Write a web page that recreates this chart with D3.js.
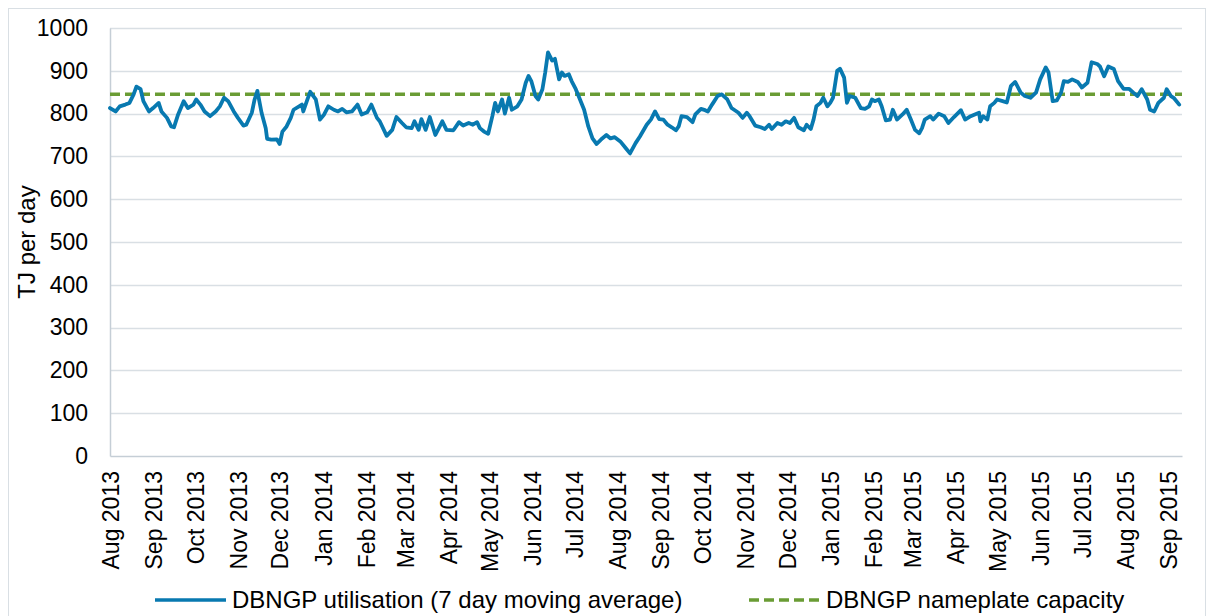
<!DOCTYPE html>
<html>
<head>
<meta charset="utf-8">
<script src="https://cdn.jsdelivr.net/npm/d3@7"></script>
<style>
  html, body { margin: 0; padding: 0; background: #fff; }
  svg { display: block; font-family: "Liberation Sans", Arial, sans-serif; }
</style>
</head>
<body>
<svg id="chart" width="1214" height="616"></svg>
<script>
// ---- Data ----
const dates = [
"2013-08-01","2013-08-05","2013-08-08","2013-08-12","2013-08-15","2013-08-18","2013-08-20","2013-08-23","2013-08-25","2013-08-29",
"2013-09-01","2013-09-05","2013-09-07","2013-09-11","2013-09-14","2013-09-16","2013-09-19","2013-09-23","2013-09-26","2013-09-30",
"2013-10-02","2013-10-05","2013-10-08","2013-10-12","2013-10-16","2013-10-19","2013-10-22","2013-10-25","2013-10-29",
"2013-11-01","2013-11-05","2013-11-07","2013-11-11","2013-11-13","2013-11-15","2013-11-18","2013-11-21","2013-11-22","2013-11-25","2013-11-29",
"2013-12-01","2013-12-03","2013-12-06","2013-12-09","2013-12-11","2013-12-15","2013-12-17","2013-12-18","2013-12-21","2013-12-23","2013-12-27","2013-12-30",
"2014-01-02","2014-01-05","2014-01-09","2014-01-12","2014-01-15","2014-01-18","2014-01-22","2014-01-26","2014-01-29",
"2014-02-02","2014-02-05","2014-02-09","2014-02-11","2014-02-16","2014-02-20","2014-02-23","2014-02-27",
"2014-03-02","2014-03-06","2014-03-08","2014-03-11","2014-03-13","2014-03-16","2014-03-19","2014-03-23","2014-03-28","2014-03-31",
"2014-04-05","2014-04-09","2014-04-12","2014-04-16","2014-04-19","2014-04-22","2014-04-24","2014-04-27","2014-04-30",
"2014-05-03","2014-05-05","2014-05-07","2014-05-10","2014-05-12","2014-05-15","2014-05-17","2014-05-21","2014-05-24","2014-05-27","2014-05-29","2014-05-31",
"2014-06-03","2014-06-05","2014-06-08","2014-06-10","2014-06-12","2014-06-15","2014-06-17","2014-06-20","2014-06-22","2014-06-24","2014-06-27","2014-06-29",
"2014-07-02","2014-07-04","2014-07-08","2014-07-11","2014-07-14","2014-07-17","2014-07-21","2014-07-24","2014-07-27","2014-07-30",
"2014-08-03","2014-08-07","2014-08-10","2014-08-14","2014-08-17","2014-08-22","2014-08-25","2014-08-28","2014-08-31",
"2014-09-03","2014-09-06","2014-09-09","2014-09-12","2014-09-14","2014-09-16","2014-09-20","2014-09-24","2014-09-26","2014-09-30",
"2014-10-03","2014-10-05","2014-10-08","2014-10-12","2014-10-15","2014-10-19","2014-10-22","2014-10-27","2014-10-30",
"2014-11-02","2014-11-04","2014-11-08","2014-11-12","2014-11-15","2014-11-18","2014-11-20","2014-11-24","2014-11-27","2014-11-30",
"2014-12-03","2014-12-06","2014-12-09","2014-12-13","2014-12-15","2014-12-18","2014-12-20","2014-12-22","2014-12-25","2014-12-27","2014-12-30",
"2015-01-01","2015-01-03","2015-01-06","2015-01-08","2015-01-11","2015-01-13","2015-01-15","2015-01-19","2015-01-23","2015-01-26","2015-01-29","2015-01-31",
"2015-02-02","2015-02-05","2015-02-07","2015-02-10","2015-02-13","2015-02-15","2015-02-18","2015-02-22","2015-02-25","2015-02-28",
"2015-03-03","2015-03-06","2015-03-08","2015-03-10","2015-03-14","2015-03-16","2015-03-20","2015-03-24","2015-03-27","2015-03-31",
"2015-04-05","2015-04-08","2015-04-12","2015-04-15","2015-04-18","2015-04-19","2015-04-21","2015-04-24","2015-04-26","2015-04-29",
"2015-05-01","2015-05-05","2015-05-08","2015-05-11","2015-05-14","2015-05-18","2015-05-21","2015-05-25","2015-05-29",
"2015-06-01","2015-06-05","2015-06-07","2015-06-10","2015-06-13","2015-06-16","2015-06-18","2015-06-21","2015-06-24","2015-06-28",
"2015-07-01","2015-07-05","2015-07-08","2015-07-12","2015-07-14","2015-07-17","2015-07-20","2015-07-24","2015-07-27","2015-07-31",
"2015-08-04","2015-08-07","2015-08-10","2015-08-13","2015-08-17","2015-08-19","2015-08-22","2015-08-25","2015-08-29","2015-08-31",
"2015-09-03","2015-09-05","2015-09-09"
];
const utilisation = [
813,805,817,821,825,845,863,857,829,805,
813,825,805,790,770,768,798,829,813,821,
833,821,805,794,805,817,837,829,805,
790,772,774,802,833,853,802,766,741,739,740,
729,758,770,790,809,817,821,805,833,851,833,786,
798,817,809,805,811,803,805,821,798,
803,821,790,782,748,762,792,778,
768,766,782,762,787,762,792,750,782,762,
761,780,772,778,774,780,766,758,753,
794,825,805,833,800,837,809,817,833,872,888,876,
841,833,857,896,943,924,928,880,896,888,892,876,
857,841,809,770,742,729,742,750,742,745,
735,719,707,731,746,774,786,805,787,
786,774,768,761,770,794,792,780,798,811,
808,805,821,841,845,833,813,802,790,
802,794,772,768,764,774,764,778,774,782,
778,790,768,761,774,764,786,817,825,837,817,
825,837,900,905,884,825,841,837,813,811,817,833,
829,833,817,784,786,809,786,798,809,786,
762,754,766,786,794,786,800,794,778,792,
808,786,794,798,802,782,794,786,817,825,
833,829,826,865,874,849,841,837,849,
880,908,896,829,831,849,876,874,880,874,
861,872,920,916,910,887,910,904,876,858,
858,849,841,857,833,809,805,825,837,857,
841,837,821
];
const capacityValue = 845;
const yTicks = [0,100,200,300,400,500,600,700,800,900,1000];
const monthTicks = [
"2013-08-01","2013-09-01","2013-10-01","2013-11-01","2013-12-01",
"2014-01-01","2014-02-01","2014-03-01","2014-04-01","2014-05-01","2014-06-01","2014-07-01","2014-08-01","2014-09-01","2014-10-01","2014-11-01","2014-12-01",
"2015-01-01","2015-02-01","2015-03-01","2015-04-01","2015-05-01","2015-06-01","2015-07-01","2015-08-01","2015-09-01"
];
const xDomain = ["2013-08-01","2015-09-11"];
const yLabel = "TJ per day";
const seriesNames = ["DBNGP utilisation (7 day moving average)", "DBNGP nameplate capacity"];

// ---- Drawing ----
const parse = d3.utcParse("%Y-%m-%d");
const fmt = d3.utcFormat("%b %Y");
const svg = d3.select("#chart");
const W = 1214, H = 616;
const plot = {left: 110, right: 1182, top: 28, bottom: 456};

const blue = "#0879B0";
const green = "#6A9C34";
const gridCol = "#D9DFE4";
const axisCol = "#C5CED6";

svg.append("rect").attr("x", 0).attr("y", 0).attr("width", W).attr("height", H).attr("fill", "#fff");
// outer chart border
svg.append("rect").attr("x", 8.5).attr("y", 8.5).attr("width", W - 17).attr("height", H + 10)
  .attr("fill", "none").attr("stroke", "#D9DFE4").attr("stroke-width", 1);

const x = d3.scaleUtc().domain(xDomain.map(parse)).range([plot.left, plot.right]);
const y = d3.scaleLinear().domain([0, 1000]).range([plot.bottom, plot.top]);

// gridlines
svg.append("g").selectAll("line").data(yTicks.filter(v => v > 0)).join("line")
  .attr("x1", plot.left).attr("x2", plot.right)
  .attr("y1", d => Math.round(y(d)) + 0.5).attr("y2", d => Math.round(y(d)) + 0.5)
  .attr("stroke", gridCol).attr("stroke-width", 1.5);

// y axis
const yAxis = d3.axisLeft(y).tickValues(yTicks).tickFormat(d3.format("d")).tickSize(0).tickPadding(22);
const gy = svg.append("g").attr("transform", `translate(${plot.left},0)`).call(yAxis);
gy.select(".domain").attr("stroke", axisCol).attr("stroke-width", 1.5);
gy.selectAll("text").attr("font-size", 23).attr("fill", "#000")
  .attr("font-family", "'Liberation Sans', Arial, sans-serif");

// x axis
const xAxis = d3.axisBottom(x).tickValues(monthTicks.map(parse)).tickFormat(fmt).tickSize(0);
const gx = svg.append("g").attr("transform", `translate(0,${plot.bottom})`).call(xAxis);
gx.select(".domain").attr("stroke", axisCol).attr("stroke-width", 1.5);
gx.selectAll("text")
  .attr("font-size", 23).attr("fill", "#000")
  .attr("font-family", "'Liberation Sans', Arial, sans-serif")
  .attr("text-anchor", "end")
  .attr("transform", "rotate(-90)")
  .attr("x", -15).attr("y", 0).attr("dy", "0.36em");

// y title
svg.append("text").attr("transform", `translate(35,${(plot.top + plot.bottom) / 2}) rotate(-90)`)
  .attr("text-anchor", "middle").attr("font-size", 24).attr("fill", "#000").text(yLabel);

// capacity line
svg.append("line")
  .attr("x1", plot.left).attr("x2", plot.right)
  .attr("y1", y(capacityValue)).attr("y2", y(capacityValue))
  .attr("stroke", green).attr("stroke-width", 3.5).attr("stroke-dasharray", "10,5");

// utilisation line
const data = dates.map((d, i) => ({date: parse(d), value: utilisation[i]}));
const line = d3.line().x(d => x(d.date)).y(d => y(d.value)).curve(d3.curveLinear);
svg.append("path").datum(data).attr("d", line)
  .attr("fill", "none").attr("stroke", blue).attr("stroke-width", 3.8)
  .attr("stroke-linejoin", "round").attr("stroke-linecap", "round");

// legend
const lg = svg.append("g").attr("font-size", 24).attr("fill", "#000");
const legY = 600;
lg.append("line").attr("x1", 155).attr("x2", 226).attr("y1", legY).attr("y2", legY)
  .attr("stroke", blue).attr("stroke-width", 3.5);
lg.append("text").attr("x", 232).attr("y", legY).attr("dy", "0.35em").text(seriesNames[0]);
lg.append("line").attr("x1", 749).attr("x2", 820).attr("y1", legY).attr("y2", legY)
  .attr("stroke", green).attr("stroke-width", 3.5).attr("stroke-dasharray", "10,5");
lg.append("text").attr("x", 826).attr("y", legY).attr("dy", "0.35em").text(seriesNames[1]);
</script>
</body>
</html>
